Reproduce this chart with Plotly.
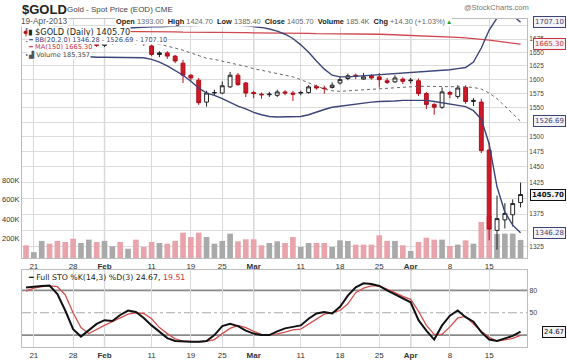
import math
import plotly.graph_objects as go

W, H = 567, 360

# ---------------- data ----------------
dates = [
    "2013-01-18", "2013-01-21", "2013-01-22", "2013-01-23", "2013-01-24", "2013-01-25",
    "2013-01-28", "2013-01-29", "2013-01-30", "2013-01-31", "2013-02-01",
    "2013-02-04", "2013-02-05", "2013-02-06", "2013-02-07", "2013-02-08",
    "2013-02-11", "2013-02-12", "2013-02-13", "2013-02-14", "2013-02-15",
    "2013-02-19", "2013-02-20", "2013-02-21", "2013-02-22",
    "2013-02-25", "2013-02-26", "2013-02-27", "2013-02-28", "2013-03-01",
    "2013-03-04", "2013-03-05", "2013-03-06", "2013-03-07", "2013-03-08",
    "2013-03-11", "2013-03-12", "2013-03-13", "2013-03-14", "2013-03-15",
    "2013-03-18", "2013-03-19", "2013-03-20", "2013-03-21", "2013-03-22",
    "2013-03-25", "2013-03-26", "2013-03-27", "2013-03-28",
    "2013-04-01", "2013-04-02", "2013-04-03", "2013-04-04", "2013-04-05",
    "2013-04-08", "2013-04-09", "2013-04-10", "2013-04-11", "2013-04-12",
    "2013-04-15", "2013-04-16", "2013-04-17", "2013-04-18", "2013-04-19",
]

opens = [1689, 1686, 1692, 1693, 1685, 1668, 1657, 1655, 1662, 1677, 1663,
         1667, 1675, 1673, 1677, 1670, 1662, 1646, 1649, 1643, 1630,
         1608, 1599, 1560, 1576, 1576, 1587, 1608, 1594, 1577,
         1574, 1573, 1572, 1578, 1576, 1576, 1577, 1588, 1585, 1586,
         1594, 1602, 1608, 1601, 1607, 1605, 1598, 1596, 1601,
         1598, 1598, 1575, 1556, 1551, 1577, 1570, 1586, 1561, 1560,
         1478, 1350, 1366, 1374, 1393.0]
highs = [1693, 1694, 1698, 1696, 1689, 1671, 1663, 1665, 1683, 1680, 1682,
         1678, 1680, 1681, 1681, 1673, 1666, 1652, 1652, 1645, 1636,
         1610, 1603, 1580, 1582, 1597, 1614, 1612, 1596, 1580,
         1577, 1578, 1582, 1581, 1580, 1580, 1590, 1591, 1589, 1595,
         1606, 1611, 1611, 1612, 1610, 1612, 1603, 1608, 1604,
         1603, 1602, 1578, 1558, 1586, 1580, 1590, 1590, 1567, 1566,
         1490, 1404, 1392, 1398, 1424.7]
lows = [1680, 1684, 1686, 1682, 1662, 1652, 1651, 1653, 1660, 1660, 1660,
        1664, 1669, 1670, 1664, 1662, 1643, 1641, 1638, 1630, 1594,
        1598, 1555, 1552, 1572, 1574, 1585, 1589, 1569, 1567,
        1566, 1569, 1569, 1572, 1562, 1572, 1575, 1582, 1575, 1584,
        1591, 1599, 1601, 1600, 1600, 1586, 1592, 1594, 1592,
        1593, 1571, 1548, 1538, 1548, 1567, 1566, 1557, 1553, 1473,
        1335, 1321, 1353, 1356, 1385.4]
closes = [1686, 1692, 1693, 1685, 1668, 1657, 1655, 1662, 1677, 1663, 1667,
          1675, 1673, 1677, 1670, 1666, 1646, 1649, 1643, 1634, 1608,
          1603, 1559, 1576, 1577, 1589, 1608, 1591, 1576, 1575,
          1573, 1574, 1578, 1576, 1574, 1577, 1587, 1585, 1584, 1590,
          1600, 1607, 1606, 1605, 1603, 1600, 1595, 1603, 1597,
          1599, 1575, 1556, 1551, 1578, 1574, 1585, 1561, 1563, 1477,
          1352, 1368, 1376, 1391.4, 1405.7]
prev_close_before = 1688  # close of the day before the first bar

volumes = [130000, 60000, 175000, 147000, 175000, 164000, 198000, 154000, 188000, 164000, 175000,
           120000, 164000, 95000, 188000, 113000, 164000, 154000, 147000, 175000, 260000,
           215000, 260000, 215000, 147000, 175000, 250000, 171000, 192000, 192000,
           130000, 154000, 171000, 154000, 215000, 113000, 154000, 154000, 154000, 113000,
           181000, 175000, 137000, 137000, 137000, 232000, 175000, 175000, 130000,
           72000, 164000, 208000, 188000, 188000, 123000, 137000, 181000, 147000, 369000,
           430000, 246000, 250000, 250000, 185357]

bb_upper = [1694, 1695, 1697, 1698, 1698, 1697, 1696, 1695, 1695, 1694, 1694,
            1694, 1695, 1696, 1697, 1697, 1698, 1698, 1699, 1699, 1700,
            1700, 1701, 1702, 1702, 1702, 1702, 1701, 1700, 1699,
            1697, 1694, 1690, 1684, 1676, 1664, 1650, 1634, 1619, 1608,
            1605, 1605, 1606, 1606, 1607, 1608, 1609, 1610, 1611,
            1612, 1613, 1614, 1615, 1616, 1618, 1620, 1622, 1632, 1658,
            1692, 1715, 1722, 1720, 1707.10]
bb_mid = [1670, 1670, 1672, 1673, 1672, 1671, 1670, 1669, 1668, 1668, 1668,
          1668, 1668, 1669, 1669, 1669, 1668, 1665, 1662, 1658, 1654,
          1649, 1643, 1639, 1637, 1634, 1631, 1627, 1624, 1620,
          1617, 1614, 1612, 1609, 1605, 1600, 1594, 1589, 1583, 1580,
          1579, 1580, 1581, 1582, 1583, 1584, 1585, 1586, 1587,
          1588, 1588, 1588, 1588, 1588, 1588, 1588, 1587, 1586, 1583,
          1576, 1566, 1553, 1540, 1526.69]
bb_lower = [1645, 1646, 1647, 1647, 1646, 1645, 1643, 1642, 1641, 1641, 1641,
            1641, 1641, 1641, 1640, 1640, 1637, 1632, 1625, 1617, 1608,
            1597, 1585, 1576, 1572, 1566, 1559, 1553, 1548, 1542,
            1538, 1535, 1534, 1534, 1534, 1535, 1538, 1543, 1547, 1551,
            1553, 1555, 1557, 1559, 1560, 1561, 1561, 1562, 1563,
            1563, 1564, 1563, 1561, 1559, 1557, 1555, 1552, 1545, 1530,
            1488, 1418, 1378, 1358, 1346.28]
ma150 = [1691, 1691, 1691, 1691, 1690.5, 1690.5, 1690, 1690, 1690, 1690, 1689.5,
         1689.5, 1689.5, 1689, 1689, 1689, 1689, 1688.5, 1688.5, 1688.5, 1688,
         1688, 1688, 1687.5, 1687.5, 1687.5, 1687, 1687, 1687, 1686.5,
         1686.5, 1686, 1686, 1686, 1685.5, 1685.5, 1685.5, 1685, 1685, 1685,
         1685, 1684.5, 1684.5, 1684.5, 1684.5, 1684, 1683.5, 1683, 1682.5,
         1682, 1681.5, 1681, 1680.5, 1680, 1679, 1678, 1677, 1676, 1675,
         1673, 1671, 1669, 1667, 1665.30]

sto_k = [84, 85.5, 86, 86.5, 75, 53, 28, 18, 27, 35, 40,
         39, 47, 53, 51, 43, 33, 24, 16, 12, 11,
         11, 11, 12, 20, 32, 35, 32, 26, 22,
         20, 20, 25, 29, 31, 33, 42, 49, 51, 49,
         58, 73, 84, 89.5, 88.5, 86, 80, 75, 70,
         64, 40, 26, 14, 33, 46, 53, 44, 38, 24,
         14, 12, 15, 19, 24.67]
sto_d = [79, 83, 85, 86, 85, 74, 50, 30, 22, 28, 33,
         38, 43, 48, 50, 49, 42, 30, 22, 15, 12,
         11, 11, 11.5, 14, 22, 29, 33, 30, 25,
         21, 20.5, 21.5, 24, 27, 28, 35, 41, 48, 50,
         53, 62, 77, 83, 86, 86, 82, 77, 72,
         68, 52, 33, 21, 21, 31, 43, 45, 35, 25,
         17, 12, 13.5, 15.5, 19.51]

tick_dates = ["2013-01-21", "2013-01-28", "2013-02-01", "2013-02-11", "2013-02-19",
              "2013-02-25", "2013-03-01", "2013-03-11", "2013-03-18", "2013-03-25",
              "2013-04-01", "2013-04-08", "2013-04-15"]
tick_labels = ["21", "28", "<b>Feb</b>", "11", "19", "25", "<b>Mar</b>", "11", "18",
               "25", "<b>Apr</b>", "8", "15"]
month_dates = ["2013-02-01", "2013-03-01", "2013-04-01"]
price_ticks = [1325, 1350, 1375, 1400, 1425, 1450, 1475, 1500, 1525, 1550,
               1575, 1600, 1625, 1650, 1675, 1700]
price_tick_labels = ["1325", "", "1375", "", "1425", "1450", "1475", "1500", "", "1550",
                     "1575", "1600", "1625", "1650", "1675", ""]
vol_ticks = [200000, 400000, 600000, 800000]
vol_tick_labels = ["200K", "400K", "600K", "800K"]

# ---------------- layout geometry (pixels) ----------------
PL, PR = 22, 527
MAIN_T, MAIN_B = 19, 258
STO_T, STO_B = 270, 347
P_TOP, P_BOT = 1713.2, 1308.6
STO_RANGE = [4.0, 107.4]
VOL_MAX = 2450000


def fx(px):
    return px / W


def fy(py):
    return 1 - py / H


FONT = "Arial, Liberation Sans, sans-serif"
VFONT = "DejaVu Sans, Verdana, sans-serif"
PINK = "#e9a3ab"
GRAYV = "#a9a9a9"
RED = "#cc1a2a"
NAVY = "#3c4478"

vol_colors = []
pc = prev_close_before
for c in closes:
    vol_colors.append(GRAYV if c >= pc else PINK)
    pc = c

fig = go.Figure()

fig.add_trace(go.Bar(x=dates, y=volumes, marker=dict(color=vol_colors, line=dict(width=0)),
                     width=0.72, xaxis="x", yaxis="y", showlegend=False, hoverinfo="skip"))

fig.add_trace(go.Scatter(x=dates, y=ma150, mode="lines", line=dict(color="#d0474f", width=1.3),
                         xaxis="x", yaxis="y2", showlegend=False, hoverinfo="skip"))
fig.add_trace(go.Scatter(x=dates, y=bb_mid, mode="lines",
                         line=dict(color="#666666", width=1, dash="dot"),
                         xaxis="x", yaxis="y2", showlegend=False, hoverinfo="skip"))
fig.add_trace(go.Scatter(x=dates, y=bb_upper, mode="lines", line=dict(color=NAVY, width=1.4),
                         xaxis="x", yaxis="y2", showlegend=False, hoverinfo="skip"))
fig.add_trace(go.Scatter(x=dates, y=bb_lower, mode="lines", line=dict(color=NAVY, width=1.4),
                         xaxis="x", yaxis="y2", showlegend=False, hoverinfo="skip"))
fig.add_trace(go.Candlestick(x=dates, open=opens, high=highs, low=lows, close=closes,
                             increasing=dict(line=dict(color="#222222", width=1), fillcolor="white"),
                             decreasing=dict(line=dict(color="#b0101c", width=1), fillcolor=RED),
                             whiskerwidth=0, xaxis="x", yaxis="y2", showlegend=False,
                             hoverinfo="skip"))

fig.add_trace(go.Scatter(x=dates, y=sto_d, mode="lines", line=dict(color="#d05050", width=1.3),
                         xaxis="x2", yaxis="y3", showlegend=False, hoverinfo="skip"))
fig.add_trace(go.Scatter(x=dates, y=sto_k, mode="lines", line=dict(color="#111111", width=2),
                         xaxis="x2", yaxis="y3", showlegend=False, hoverinfo="skip"))

xr = [-0.51, 63.82]
xcommon = dict(type="category", range=xr, tickmode="array", tickvals=tick_dates,
               ticktext=tick_labels, showgrid=True, gridcolor="#d9d9d9", gridwidth=1,
               ticks="", tickfont=dict(family=FONT, size=8, color="#333"),
               showline=True, linecolor="#bdbdbd", mirror=True, zeroline=False,
               rangeslider=dict(visible=False), fixedrange=True)

fig.update_layout(
    width=W, height=H, margin=dict(l=0, r=0, t=0, b=0),
    paper_bgcolor="white", plot_bgcolor="white", showlegend=False,
    xaxis=dict(domain=[fx(PL), fx(PR)], anchor="y", **xcommon),
    xaxis2=dict(domain=[fx(PL), fx(PR)], anchor="y3", **xcommon),
    yaxis=dict(domain=[fy(MAIN_B), fy(MAIN_T)], range=[0, VOL_MAX], side="left",
               tickmode="array", tickvals=vol_ticks, ticktext=vol_tick_labels,
               showgrid=False, zeroline=False, ticks="",
               tickfont=dict(family=FONT, size=7.5, color="#333"),
               showline=True, linecolor="#bdbdbd", fixedrange=True),
    yaxis2=dict(type="log", overlaying="y", side="right",
                range=[math.log10(P_BOT), math.log10(P_TOP)],
                tickmode="array", tickvals=price_ticks, ticktext=price_tick_labels,
                showgrid=True, gridcolor="#dcdcdc", zeroline=False, ticks="",
                tickfont=dict(family=FONT, size=6.5, color="#444"),
                showline=True, linecolor="#bdbdbd", fixedrange=True),
    yaxis3=dict(domain=[fy(STO_B), fy(STO_T)], range=STO_RANGE, side="right",
                tickmode="array", tickvals=[50, 80], ticktext=["50", "80"],
                showgrid=False, zeroline=False, ticks="",
                tickfont=dict(family=FONT, size=7, color="#444"),
                showline=True, linecolor="#bdbdbd", mirror=True, fixedrange=True),
)

shapes = []
for md in month_dates:
    for xa, ya in (("x", "y"), ("x2", "y3")):
        shapes.append(dict(type="line", xref=xa, yref=f"{ya} domain", x0=md, x1=md, y0=0, y1=1,
                           line=dict(color="#a8a8a8", width=1.2), layer="below"))
for lvl, dash, col, wd in ((80, "solid", "#8a8a8a", 1.6), (20, "solid", "#8a8a8a", 1.6),
                           (50, "dashdot", "#aaaaaa", 1.2)):
    shapes.append(dict(type="line", xref="x2 domain", yref="y3", x0=0, x1=1, y0=lvl, y1=lvl,
                       line=dict(color=col, width=wd, dash=dash), layer="below"))
fig.update_layout(shapes=shapes)

ann = []


def text(px, py, t, size=8, color="#222", anchor="left", bg=None, family=FONT):
    d = dict(x=fx(px), y=fy(py), xref="paper", yref="paper", text=t,
             showarrow=False, xanchor=anchor, yanchor="middle",
             font=dict(family=family, size=size, color=color), borderpad=0)
    if bg:
        d["bgcolor"] = bg
    ann.append(d)


# header
text(21, 9, "<b>$GOLD</b>", size=13, color="#222")
text(66, 9, "Gold - Spot Price (EOD) CME", size=8, color="#444")
text(530, 7, "@StockCharts.com", size=7.5, color="#777", anchor="right")
text(20, 21, "19-Apr-2013", size=8.3, color="#555", bg="white")
hdr = ("<b>Open</b> <span style='color:#666'>1393.00</span>  <b>High</b> "
       "<span style='color:#666'>1424.70</span>  <b>Low</b> <span style='color:#666'>1385.40</span>  "
       "<b>Close</b> <span style='color:#666'>1405.70</span>  <b>Volume</b> "
       "<span style='color:#666'>185.4K</span>  <b>Chg</b> "
       "<span style='color:#666'>+14.30 (+1.03%)</span> "
       "<span style='color:#2a9a2a;font-family:DejaVu Sans'>▴</span>")
text(115, 21, hdr, size=7.4, color="#222", bg="white")

# price legend rows
text(27, 31.5, "<b>▮</b> $GOLD (Daily) 1405.70", size=8.2, color="#222", bg="white", family=VFONT)
text(27, 39.5, "━ BB(20,2.0) 1346.28 - 1526.69 - 1707.10", size=6.6, color=NAVY, bg="white",
     family=VFONT)
text(27, 47, "━ MA(150) 1665.30", size=6.6, color="#c8323c", bg="white", family=VFONT)
text(27, 54.5, "<span style='color:#555'>▟</span> Volume 185,357", size=6.6, color="#444",
     bg="white", family=VFONT)

# stochastic legend
text(27, 277, "<b>━</b> Full STO %K(14,3) %D(3) 24.67, <span style='color:#cc3333'>19.51</span>",
     size=7.8, color="#222", family=VFONT)


def tag(py, t, color, bold=False):
    ann.append(dict(x=fx(566), y=fy(py), xref="paper", yref="paper",
                    text=(f"<b>{t}</b>" if bold else t), showarrow=False,
                    xanchor="right", yanchor="middle",
                    font=dict(family=VFONT, size=7, color=color),
                    bgcolor="#f3f3f7", bordercolor=color, borderwidth=1, borderpad=1))


def ypx_price(p):
    return MAIN_T + (math.log(P_TOP) - math.log(p)) / (math.log(P_TOP) - math.log(P_BOT)) * (MAIN_B - MAIN_T)


def ypx_sto(v):
    return STO_T + (STO_RANGE[1] - v) / (STO_RANGE[1] - STO_RANGE[0]) * (STO_B - STO_T)


tag(ypx_price(bb_upper[-1]), "1707.10", NAVY)
tag(ypx_price(ma150[-1]), "1665.30", "#c8323c")
tag(ypx_price(bb_mid[-1]), "1526.69", NAVY)
tag(ypx_price(closes[-1]), "1405.70", "#111", bold=True)
tag(ypx_price(bb_lower[-1]), "1346.28", NAVY)
tag(ypx_sto(sto_k[-1]), "24.67", "#111")

fig.update_layout(annotations=ann)
fig.write_html("out.html", config={"displayModeBar": False},
               post_script="document.body.style.margin='0px';document.body.style.overflow='hidden';")
